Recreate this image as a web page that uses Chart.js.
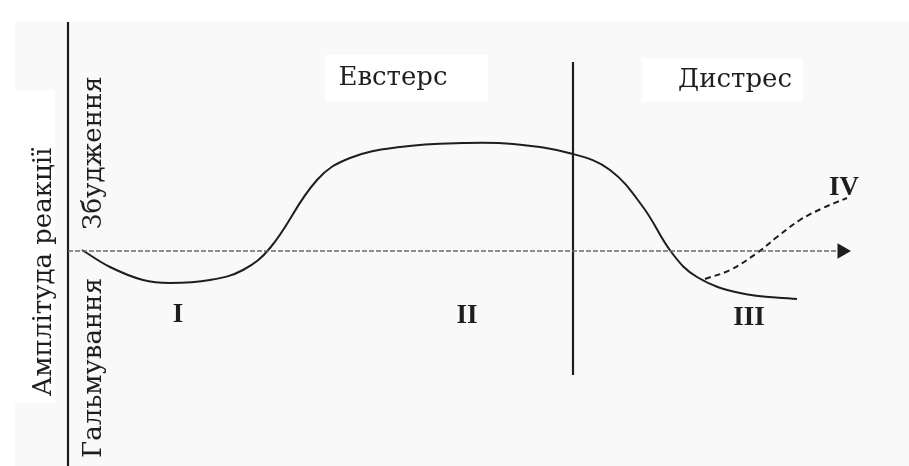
<!DOCTYPE html>
<html>
<head>
<meta charset="utf-8">
<script src="https://cdn.jsdelivr.net/npm/chart.js"></script>
<style>
  html, body { margin: 0; padding: 0; background: #ffffff; }
  canvas { display: block; }
</style>
</head>
<body>
<canvas id="chart" width="909" height="466"></canvas>
<script>
// time axis (arbitrary units, 0 = start of stress) and reaction amplitude (0 = baseline)
const mainTime = [14, 42, 75, 102, 142, 175, 202, 249, 282, 332, 395, 445, 505, 542, 575, 604, 629, 672, 729];
const mainAmp  = [1, -16, -29, -32, -29, -19, 3, 71, 93, 104, 108, 107, 97, 81, 44, -2, -26, -42, -48];

// phase IV (dashed recovery branch)
const recoveryTime = [637, 662, 689, 709, 732, 755, 779];
const recoveryAmp  = [-28, -19, -2, 14, 31, 43, 53];

const zoneLabels = ['Евстерс', 'Дистрес'];
const phaseLabels = ['I', 'II', 'III', 'IV'];
const axisTitle = 'Амплітуда реакції';
const upLabel = 'Збудження';
const downLabel = 'Гальмування';

const tMin = -68, tMax = 841, aMin = -215, aMax = 251;
const tEnd = 774;      // end of time axis (arrow)
const tBorder = 505;   // eustress / distress border

const toPoints = (xs, ys) => xs.map((x, i) => ({ x: x, y: ys[i] }));

const ink = '#1e1e1e';

const drawings = {
  id: 'drawings',
  beforeDraw(chart) {
    const c = chart.ctx;
    c.save();
    c.fillStyle = '#f9f9f9';
    c.fillRect(15, 22, chart.width - 15, chart.height - 22);
    c.fillStyle = '#ffffff';
    c.fillRect(325, 55, 163, 47);
    c.fillRect(642, 58, 161, 44);
    c.fillRect(13, 90, 42, 313);
    c.restore();
  },
  afterDraw(chart) {
    const c = chart.ctx;
    const sx = chart.scales.x, sy = chart.scales.y;
    const X = v => sx.getPixelForValue(v);
    const Y = v => sy.getPixelForValue(v);
    c.save();
    c.fillStyle = ink;
    c.textBaseline = 'alphabetic';
    c.textAlign = 'center';

    c.font = '26px "DejaVu Serif"';
    c.fillText(zoneLabels[0], X(325), Y(166));
    c.fillText(zoneLabels[1], X(667), Y(164));

    c.font = 'bold 27px "Liberation Serif"';
    c.fillText(phaseLabels[0], X(110), Y(-71));
    c.fillText(phaseLabels[1], X(399), Y(-72));
    c.fillText(phaseLabels[2], X(681), Y(-74));
    c.fillText(phaseLabels[3], X(776), Y(56));

    c.font = '26px "DejaVu Serif"';
    const vert = (txt, t, a) => {
      c.save();
      c.translate(X(t), Y(a));
      c.rotate(-Math.PI / 2);
      c.fillText(txt, 0, 0);
      c.restore();
    };
    vert(axisTitle, -17, -21);
    vert(upLabel, 33, 98);
    vert(downLabel, 33, -117);
    c.restore();
  }
};

new Chart(document.getElementById('chart').getContext('2d'), {
  type: 'scatter',
  data: {
    datasets: [
      {
        data: [{ x: 0, y: 0 }, { x: tEnd - 6, y: 0 }],
        showLine: true, borderColor: '#6a6a6a', borderWidth: 1.5, borderDash: [5, 2], pointRadius: 0
      },
      {
        data: [{ x: tEnd, y: 0 }],
        pointStyle: 'triangle', pointRotation: 90, pointRadius: 9,
        backgroundColor: ink, borderColor: ink, borderWidth: 0
      },
      {
        data: [{ x: 0, y: aMax - 22 }, { x: 0, y: aMin }],
        showLine: true, borderColor: ink, borderWidth: 2.2, pointRadius: 0
      },
      {
        data: [{ x: tBorder, y: 189 }, { x: tBorder, y: -124 }],
        showLine: true, borderColor: ink, borderWidth: 2.2, pointRadius: 0
      },
      {
        data: toPoints(mainTime, mainAmp),
        showLine: true, borderColor: ink, borderWidth: 2, pointRadius: 0,
        tension: 0.4
      },
      {
        data: toPoints(recoveryTime, recoveryAmp),
        showLine: true, borderColor: ink, borderWidth: 2, borderDash: [6, 4], pointRadius: 0,
        tension: 0.4
      }
    ]
  },
  options: {
    responsive: false,
    animation: false,
    layout: { padding: 0, autoPadding: false },
    scales: {
      x: { type: 'linear', display: false, min: tMin, max: tMax },
      y: { type: 'linear', display: false, min: aMin, max: aMax }
    },
    plugins: { legend: { display: false }, tooltip: { enabled: false } }
  },
  plugins: [drawings]
});
</script>
</body>
</html>
